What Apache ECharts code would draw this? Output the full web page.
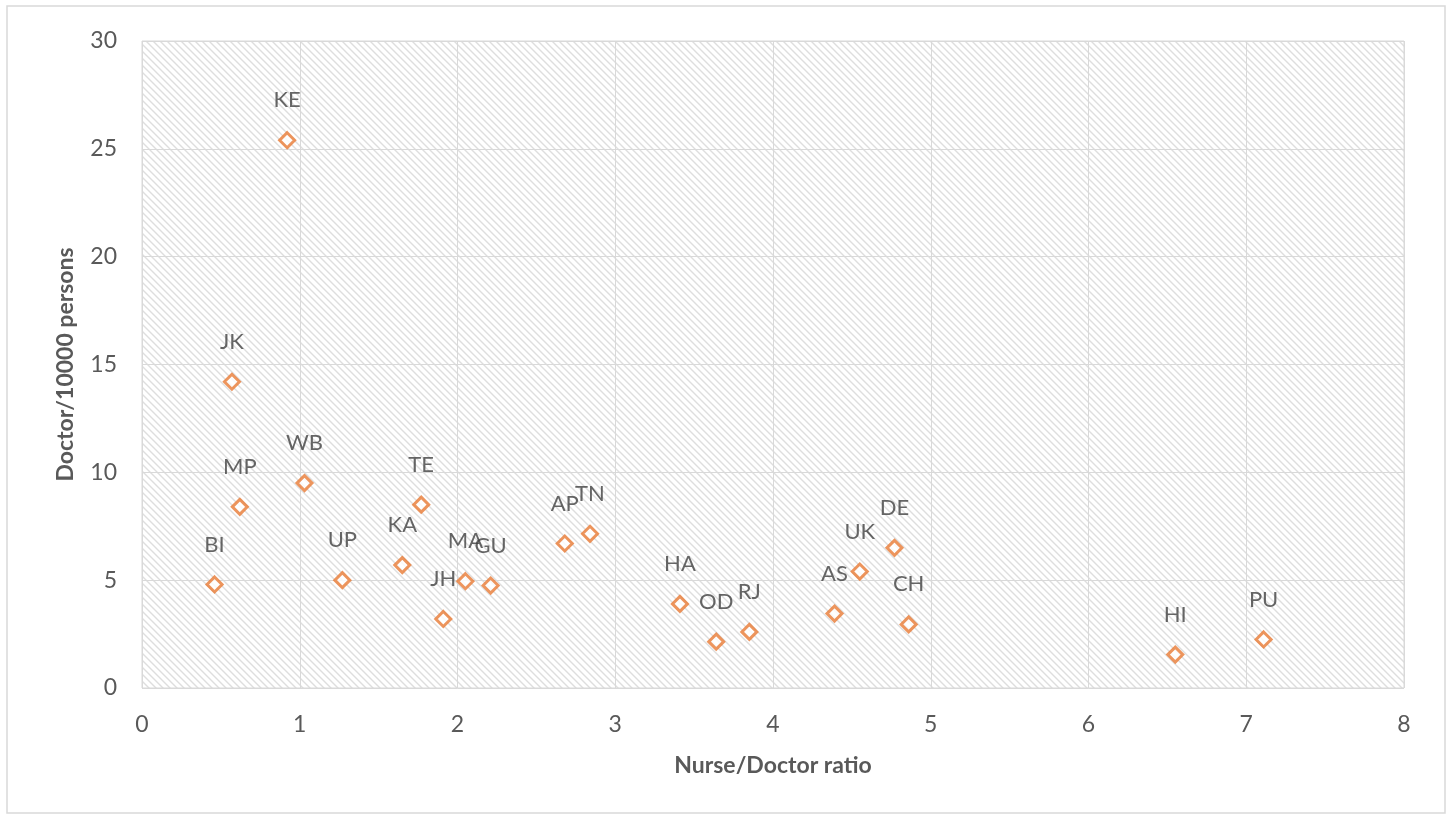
<!DOCTYPE html>
<html>
<head>
<meta charset="utf-8">
<style>
  html, body { margin: 0; padding: 0; background: #ffffff; }
  #chart { width: 1452px; height: 818px; }
</style>
<script src="https://cdn.jsdelivr.net/npm/echarts@6/dist/echarts.min.js"></script>
</head>
<body>
<div id="chart"></div>
<script>
// State codes with nurse/doctor ratio and doctors per 10000 persons
const states = ['KE', 'JK', 'MP', 'WB', 'BI', 'UP', 'TE', 'KA', 'JH', 'MA', 'GU',
                'AP', 'TN', 'HA', 'OD', 'RJ', 'AS', 'UK', 'DE', 'CH', 'HI', 'PU'];
const nurseDoctorRatio = [0.92, 0.57, 0.62, 1.03, 0.46, 1.27, 1.77, 1.65, 1.91, 2.05, 2.21,
                          2.68, 2.84, 3.41, 3.64, 3.85, 4.39, 4.55, 4.77, 4.86, 6.55, 7.11];
const doctorsPer10000 = [25.4, 14.2, 8.4, 9.5, 4.8, 5.0, 8.5, 5.7, 3.2, 4.95, 4.75,
                         6.7, 7.15, 3.9, 2.15, 2.6, 3.45, 5.4, 6.5, 2.95, 1.55, 2.25];
const xTicks = [0, 1, 2, 3, 4, 5, 6, 7, 8];
const yTicks = [0, 5, 10, 15, 20, 25, 30];

// Diagonal hatch tile for the plot background
function makeHatch() {
  const c = document.createElement('canvas');
  const s = 7;
  c.width = s; c.height = s;
  const ctx = c.getContext('2d');
  ctx.fillStyle = '#ffffff';
  ctx.fillRect(0, 0, s, s);
  ctx.strokeStyle = '#dedede';
  ctx.lineWidth = 1.4;
  ctx.beginPath();
  ctx.moveTo(-1, -1); ctx.lineTo(s + 1, s + 1);
  ctx.moveTo(-1, s - 1); ctx.lineTo(1, s + 1);
  ctx.moveTo(s - 1, -1); ctx.lineTo(s + 1, 1);
  ctx.stroke();
  return c;
}

const points = states.map((name, i) => ({
  name: name,
  value: [nurseDoctorRatio[i], doctorsPer10000[i]]
}));

const FONT = 'Lato, "Open Sans", sans-serif';

const chart = echarts.init(document.getElementById('chart'), null, { renderer: 'canvas' });
chart.setOption({
  animation: false,
  backgroundColor: '#ffffff',
  graphic: [{
    type: 'rect',
    shape: { x: 7, y: 6, width: 1438, height: 807 },
    style: { fill: 'none', stroke: '#d9d9d9', lineWidth: 1.5 },
    silent: true
  }],
  grid: {
    left: 142, top: 41, right: 48, bottom: 130,
    show: true,
    backgroundColor: { image: makeHatch(), repeat: 'repeat' },
    borderColor: '#d9d9d9',
    borderWidth: 1
  },
  xAxis: {
    type: 'value',
    min: xTicks[0], max: xTicks[xTicks.length - 1], interval: 1,
    name: 'Nurse/Doctor ratio',
    nameLocation: 'middle',
    nameGap: 66,
    nameTextStyle: { fontFamily: FONT, fontSize: 23, fontWeight: 'bold', color: '#595959' },
    axisLine: { show: false },
    axisTick: { show: false },
    axisLabel: { fontFamily: FONT, fontSize: 23, color: '#595959', margin: 25 },
    splitLine: { show: true, lineStyle: { color: '#d9d9d9', width: 1 } }
  },
  yAxis: {
    type: 'value',
    min: yTicks[0], max: yTicks[yTicks.length - 1], interval: 5,
    name: 'Doctor/10000 persons',
    nameLocation: 'middle',
    nameGap: 65,
    nameTextStyle: { fontFamily: FONT, fontSize: 23, fontWeight: 'bold', color: '#595959' },
    axisLine: { show: false },
    axisTick: { show: false },
    axisLabel: { fontFamily: FONT, fontSize: 23, color: '#595959', margin: 25 },
    splitLine: { show: true, lineStyle: { color: '#d9d9d9', width: 1 } }
  },
  series: [{
    type: 'scatter',
    data: points,
    symbol: 'diamond',
    symbolSize: 15,
    itemStyle: { color: '#ffffff', borderColor: '#E97B35', borderWidth: 3 },
    label: {
      show: true,
      position: 'top',
      distance: 20,
      formatter: p => p.name,
      fontFamily: FONT,
      fontSize: 22,
      color: '#404040'
    }
  }]
});
</script>
</body>
</html>
